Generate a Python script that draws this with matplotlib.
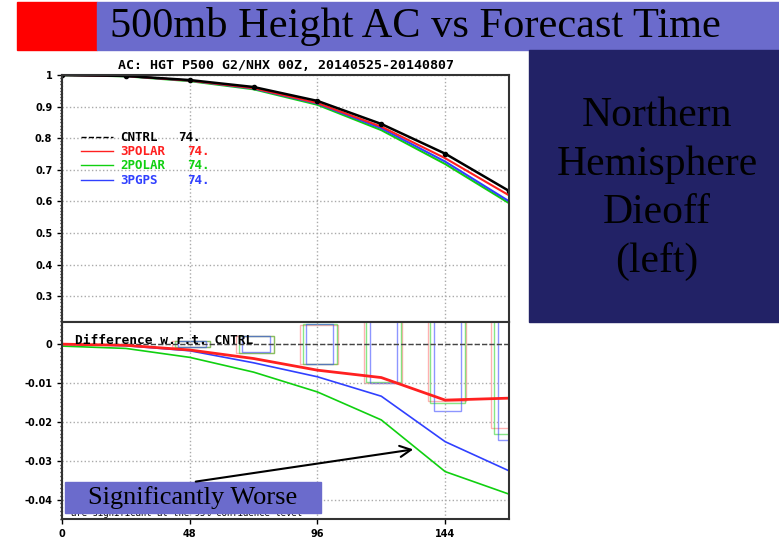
import matplotlib.pyplot as plt
import numpy as np
from matplotlib.patches import Rectangle, FancyArrowPatch
from matplotlib.ticker import MultipleLocator

# forecast hours and anomaly correlation
hours = [0, 24, 48, 72, 96, 120, 144, 168]
cntrl = [1.0, 0.997, 0.984, 0.962, 0.918, 0.845, 0.751, 0.633]
# differences w.r.t. CNTRL
d_3polar = [0.0, -0.0003, -0.0015, -0.0037, -0.0067, -0.0086, -0.0144, -0.0139]
d_2polar = [-0.0005, -0.0011, -0.0034, -0.0072, -0.0123, -0.0195, -0.0328, -0.0386]
d_3pgps = [0.0, -0.0004, -0.0017, -0.0048, -0.0084, -0.0134, -0.0251, -0.0326]
# 95% significance thresholds
sig_hours = [48, 72, 96, 120, 144, 168]
sig_3polar = [0.0008, 0.0022, 0.0050, 0.0099, 0.0147, 0.0215]
sig_2polar = [0.0008, 0.0022, 0.0051, 0.0098, 0.0152, 0.0230]
sig_3pgps = [0.0007, 0.0020, 0.0052, 0.0100, 0.0172, 0.0247]
names = ['CNTRL', '3POLAR', '2POLAR', '3PGPS']
counts = ['74.', '74.', '74.', '74.']

W, H = 779, 538
fig = plt.figure(figsize=(W/100, H/100), dpi=100)

def box(x0, y0, x1, y1):
    return [x0/W, 1-y1/H, (x1-x0)/W, (y1-y0)/H]

mono = 'DejaVu Sans Mono'
red, green, blue = '#ff2020', '#10d010', '#3040ff'

ax1 = fig.add_axes(box(62, 75, 509, 322))
ax2 = fig.add_axes(box(62, 322, 509, 519))

c = np.array(cntrl)
ax1.plot(hours, c + np.array(d_2polar), color=green, lw=1.5)
ax1.plot(hours, c + np.array(d_3pgps), color=blue, lw=1.5)
ax1.plot(hours, c + np.array(d_3polar), color=red, lw=1.5)
ax1.plot(hours, c, color='black', lw=1.8, marker='o', ms=3)
ax1.set_xlim(0, 168)
ax1.set_ylim(0.218, 1.0)
ax1.set_yticks([1, 0.9, 0.8, 0.7, 0.6, 0.5, 0.4, 0.3])
ax1.set_yticklabels(['1', '0.9', '0.8', '0.7', '0.6', '0.5', '0.4', '0.3'])
ax1.set_xticks([0, 48, 96, 144])
ax1.set_xticklabels([])
ax1.yaxis.set_minor_locator(MultipleLocator(0.01))
ax1.set_title('AC: HGT P500 G2/NHX 00Z, 20140525-20140807', family=mono,
              fontweight='bold', fontsize=9.5, pad=4)

# legend drawn by hand
leg_cols = ['black', red, green, blue]
leg_y = [137, 151, 165, 180]
for n, cnt, col, py in zip(names, counts, leg_cols, leg_y):
    yf = (322-py)/247
    ax1.plot([(81-62)/447, (113-62)/447], [yf, yf], color=col, lw=1,
             ls='--' if n == 'CNTRL' else '-', transform=ax1.transAxes)
    ax1.text((120-62)/447, yf, n, color=col, family=mono, fontweight='bold',
             fontsize=9, va='center', transform=ax1.transAxes)
    xc = 178 if n == 'CNTRL' else 187
    ax1.text((xc-62)/447, yf, cnt, color=col, family=mono, fontweight='bold',
             fontsize=9, va='center', transform=ax1.transAxes)

# significance boxes
for sig, col, al, lo, hi in [(sig_3polar, red, 0.35, -6.6, 7.7),
                             (sig_2polar, green, 0.5, -5.6, 7.5),
                             (sig_3pgps, blue, 0.55, -4.3, 6.0)]:
    for h, s in zip(sig_hours, sig):
        ax2.add_patch(Rectangle((h+lo, -s), hi-lo, 2*s, fill=False,
                                edgecolor=col, alpha=al, lw=1))

ax2.axhline(0, color='#444444', ls='--', lw=1)
ax2.plot(hours, d_2polar, color=green, lw=1.2)
ax2.plot(hours, d_3pgps, color=blue, lw=1.2)
ax2.plot(hours, d_3polar, color=red, lw=2)
ax2.set_xlim(0, 168)
ax2.set_ylim(-0.045, 0.0057)
ax2.set_yticks([0, -0.01, -0.02, -0.03, -0.04])
ax2.set_yticklabels(['0', '-0.01', '-0.02', '-0.03', '-0.04'])
ax2.set_xticks([0, 48, 96, 144])
ax2.yaxis.set_minor_locator(MultipleLocator(0.001))
ax2.text(0.03, 0.89, 'Difference w.r.t. CNTRL', family=mono, fontweight='bold',
         fontsize=9.3, transform=ax2.transAxes)
ax2.text(0.02, 0.015, 'are significant at the 95% confidence level', family=mono,
         fontsize=6.5, transform=ax2.transAxes)

for ax in (ax1, ax2):
    ax.grid(True, ls=':', color='#aaaaaa', lw=1)
    ax.tick_params(which='both', labelsize=7, width=1)
    ax.tick_params(which='minor', length=1.5)
    for lab in ax.get_xticklabels() + ax.get_yticklabels():
        lab.set_fontweight('bold')
    for sp in ax.spines.values():
        sp.set_linewidth(1.5)
        sp.set_color('#333333')

# overlay in pixel coordinates
ov = fig.add_axes([0, 0, 1, 1])
ov.set_xlim(0, W)
ov.set_ylim(H, 0)
ov.axis('off')
ov.add_patch(Rectangle((17, 2), 80, 48, color='#ff0000'))
ov.add_patch(Rectangle((97, 2), W-97, 48, color='#6b6bcc'))
ov.text(110, 27, '500mb Height AC vs Forecast Time', family='Liberation Serif',
        fontsize=30.5, va='center', ha='left')
ov.add_patch(Rectangle((529, 50), W-529, 272, color='#222266'))
ov.text(657, 189, 'Northern\nHemisphere\nDieoff\n(left)', family='Liberation Serif',
        fontsize=30, ha='center', va='center', linespacing=1.34)
ov.add_patch(Rectangle((65, 482), 256, 31, color='#6b6bcc'))
ov.text(193, 498, 'Significantly Worse', family='Liberation Serif',
        fontsize=19, ha='center', va='center')
ov.add_patch(FancyArrowPatch((193, 482), (416, 449), arrowstyle='->,head_length=8,head_width=4',
                             color='black', lw=1.5))

fig.savefig('out.png', dpi=100)
